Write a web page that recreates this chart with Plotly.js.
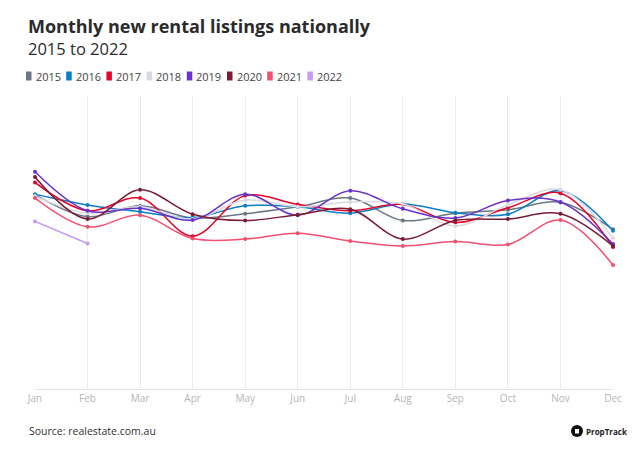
<!DOCTYPE html>
<html>
<head>
<meta charset="utf-8">
<script src="https://cdn.plot.ly/plotly-3.0.1.min.js"></script>
<style>html,body{margin:0;padding:0;background:#fff;}#chart{width:633px;height:455px;}</style>
</head>
<body>
<div id="chart"></div>
<script>
// Data (values in thousands of listings; y-axis unlabeled)
const months = ["Jan","Feb","Mar","Apr","May","Jun","Jul","Aug","Sep","Oct","Nov","Dec"];
const years = ["2015","2016","2017","2018","2019","2020","2021","2022"];
const y2015 = [39.8, 35.3, 37.5, 35.0, 35.9, 37.3, 39.1, 34.5, 36.0, 36.7, 38.2, 32.7];
const y2016 = [39.9, 37.7, 36.3, 35.1, 37.5, 37.3, 36.0, 37.9, 36.1, 35.8, 40.6, 32.4];
const y2017 = [42.3, 36.5, 39.1, 31.3, 39.6, 37.8, 36.5, 37.8, 34.1, 37.1, 40.1, 29.1];
const y2018 = [39.5, 36.0, 37.3, 34.8, 38.7, 37.3, 38.3, 37.9, 33.4, 37.7, 40.8, 30.9];
const y2019 = [44.5, 36.5, 37.0, 34.6, 39.9, 35.6, 40.6, 36.9, 35.0, 38.6, 38.3, 29.7];
const y2020 = [43.4, 34.8, 40.8, 35.8, 34.5, 35.7, 36.8, 30.7, 34.5, 34.8, 35.9, 29.3];
const y2021 = [39.1, 33.2, 35.6, 30.8, 30.7, 31.9, 30.3, 29.3, 30.2, 29.6, 34.6, 25.4];
const y2022 = [34.3, 29.8];
const seriesValues = [y2015, y2016, y2017, y2018, y2019, y2020, y2021, y2022];
const colors = ["#6b7785", "#0b7ec4", "#e3062c", "#d8dae0", "#6a32c8", "#7a1c35", "#f2506f", "#c49cf4"];

const FONT = "Open Sans, Lato, sans-serif";
const traces = years.map((yr, i) => ({
  type: "scatter",
  mode: "lines+markers",
  name: yr,
  x: months.slice(0, seriesValues[i].length),
  y: seriesValues[i],
  line: {color: colors[i], width: 1.5, shape: "spline", smoothing: 1},
  marker: {color: colors[i], size: 4},
  cliponaxis: false,
  showlegend: false
}));

// plot area in pixels
const L = 35, R = 613, T = 96, B = 389;
const px = x => (x - L) / (R - L);
const py = y => (B - y) / (B - T);

const annotations = [
  {text: "<b>Monthly new rental listings nationally</b>", x: px(26), y: py(26), xref: "paper", yref: "paper",
   xanchor: "left", yanchor: "middle", showarrow: false, font: {family: FONT, size: 18, color: "#2b2b2b"}},
  {text: "2015 to 2022", x: px(26), y: py(48), xref: "paper", yref: "paper",
   xanchor: "left", yanchor: "middle", showarrow: false, font: {family: FONT, size: 16.5, color: "#2b2b2b"}},
  {text: "Source: realestate.com.au", x: px(27), y: py(431), xref: "paper", yref: "paper",
   xanchor: "left", yanchor: "middle", showarrow: false, font: {family: FONT, size: 10.5, color: "#333"}},
  {text: "<b>PropTrack</b>", x: px(629), y: py(431), xref: "paper", yref: "paper",
   xanchor: "right", yanchor: "middle", showarrow: false, font: {family: FONT, size: 8, color: "#222"}}
];
const shapes = [
  {type: "circle", xref: "paper", yref: "paper", x0: px(571), x1: px(583), y0: py(425), y1: py(437),
   fillcolor: "#111", line: {width: 0}},
  {type: "rect", xref: "paper", yref: "paper", x0: px(575), x1: px(579), y0: py(429), y1: py(433.5),
   fillcolor: "#fff", line: {width: 0}}
];
years.forEach((yr, i) => {
  const x0 = 26 + i * 40.2;
  shapes.push({type: "rect", xref: "paper", yref: "paper", x0: px(x0), x1: px(x0 + 5.5), y0: py(71.5), y1: py(80.5),
    fillcolor: colors[i], line: {width: 0}});
  annotations.push({text: yr, x: px(x0 + 7.5), y: py(76), xref: "paper", yref: "paper",
    xanchor: "left", yanchor: "middle", showarrow: false, font: {family: FONT, size: 11, color: "#444"}});
});

const layout = {
  width: 633, height: 455,
  margin: {l: L, r: 633 - R, t: T, b: 455 - B, pad: 0},
  paper_bgcolor: "#fff", plot_bgcolor: "#fff",
  showlegend: false,
  xaxis: {type: "category", range: [0, 11], showgrid: true, gridcolor: "#ececec", gridwidth: 1,
    showline: true, linecolor: "#e4e4e4", linewidth: 1, ticks: "", zeroline: false,
    tickfont: {family: FONT, size: 10, color: "#b5b5b5"}},
  yaxis: {range: [0, 60], showgrid: false, showticklabels: false, zeroline: false, showline: false, ticks: ""},
  annotations: annotations,
  shapes: shapes
};
Plotly.newPlot("chart", traces, layout, {displayModeBar: false, staticPlot: true});
</script>
</body>
</html>
